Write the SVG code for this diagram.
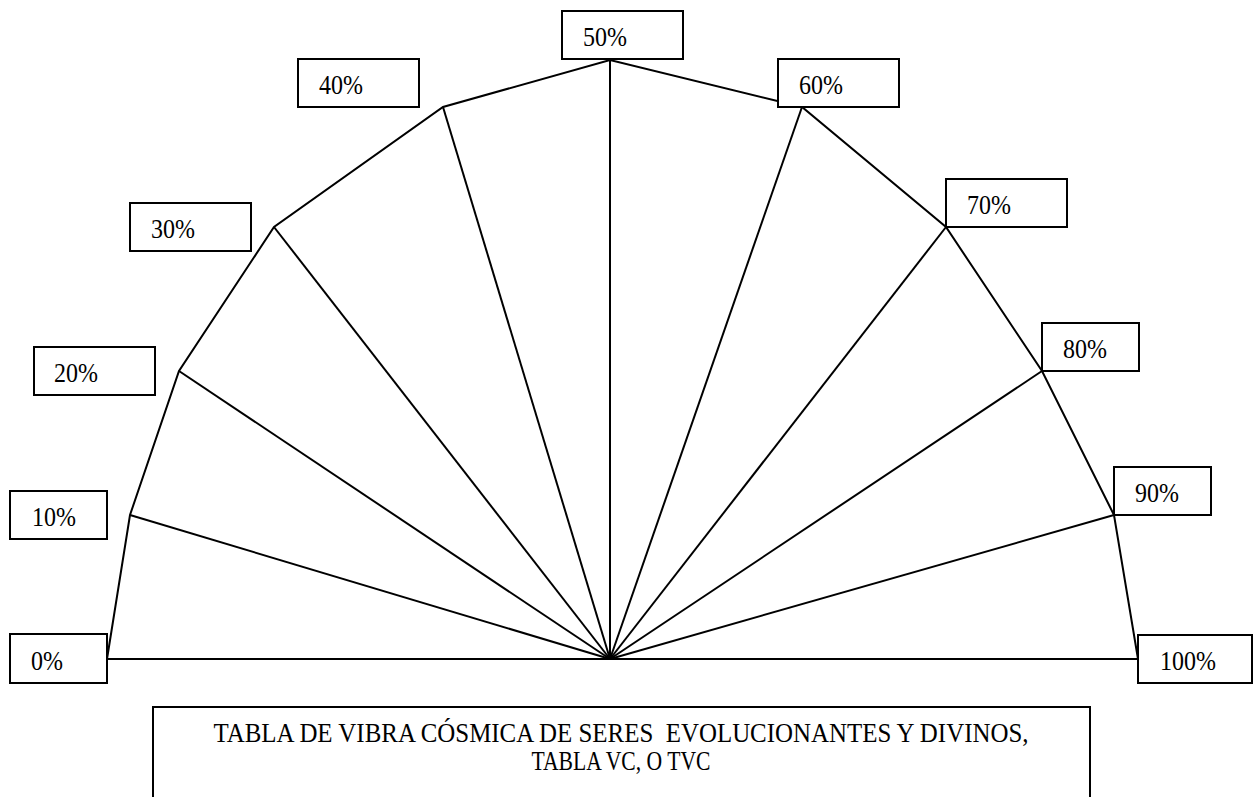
<svg xmlns="http://www.w3.org/2000/svg" width="1254" height="797" viewBox="0 0 1254 797">
<style>
.box{fill:#fff;stroke:#000;stroke-width:2}
.lbl{font-family:"Liberation Serif","Times New Roman",serif;font-size:24px;fill:#000}
.ttl{font-family:"Liberation Serif","Times New Roman",serif;font-size:21px;fill:#000;white-space:pre}
.ln{stroke:#000;stroke-width:2;fill:none;stroke-linejoin:miter}
</style>
<rect width="1254" height="797" fill="#fff"/>
<g id="connectors">
<polyline class="ln" points="107,659 130,515 179,371 274,227 443,107 610,60 802,107 946,227 1042,371 1114,515 1138,659"/>
<line class="ln" x1="107" y1="659" x2="1138" y2="659"/>
<line class="ln" x1="610" y1="659" x2="130" y2="515"/>
<line class="ln" x1="610" y1="659" x2="179" y2="371"/>
<line class="ln" x1="610" y1="659" x2="274" y2="227"/>
<line class="ln" x1="610" y1="659" x2="443" y2="107"/>
<line class="ln" x1="610" y1="659" x2="610" y2="60"/>
<line class="ln" x1="610" y1="659" x2="802" y2="107"/>
<line class="ln" x1="610" y1="659" x2="946" y2="227"/>
<line class="ln" x1="610" y1="659" x2="1042" y2="371"/>
<line class="ln" x1="610" y1="659" x2="1114" y2="515"/>
</g>
<g id="n0"><rect class="box" x="10" y="634" width="97" height="49"/><text class="lbl" transform="translate(31,670) scale(1,1.1)">0%</text></g>
<g id="n10"><rect class="box" x="10" y="491" width="97" height="48"/><text class="lbl" transform="translate(32,526) scale(1,1.1)">10%</text></g>
<g id="n20"><rect class="box" x="34" y="347" width="121" height="48"/><text class="lbl" transform="translate(54,382) scale(1,1.1)">20%</text></g>
<g id="n30"><rect class="box" x="130" y="203" width="121" height="48"/><text class="lbl" transform="translate(151,238) scale(1,1.1)">30%</text></g>
<g id="n40"><rect class="box" x="298" y="59" width="121" height="48"/><text class="lbl" transform="translate(319,94) scale(1,1.1)">40%</text></g>
<g id="n50"><rect class="box" x="562" y="11" width="121" height="48"/><text class="lbl" transform="translate(583,46) scale(1,1.1)">50%</text></g>
<g id="n60"><rect class="box" x="778" y="59" width="121" height="48"/><text class="lbl" transform="translate(799,94) scale(1,1.1)">60%</text></g>
<g id="n70"><rect class="box" x="946" y="179" width="121" height="48"/><text class="lbl" transform="translate(967,214) scale(1,1.1)">70%</text></g>
<g id="n80"><rect class="box" x="1042" y="323" width="97" height="48"/><text class="lbl" transform="translate(1063,358) scale(1,1.1)">80%</text></g>
<g id="n90"><rect class="box" x="1114" y="467" width="97" height="48"/><text class="lbl" transform="translate(1135,502) scale(1,1.1)">90%</text></g>
<g id="n100"><rect class="box" x="1138" y="635" width="114" height="48"/><text class="lbl" transform="translate(1160,670) scale(1,1.1)">100%</text></g>
<g id="title">
<rect class="box" x="153" y="707" width="937" height="110"/>
<text class="ttl" transform="translate(621,742) scale(1,1.35)" text-anchor="middle" textLength="815" lengthAdjust="spacingAndGlyphs" xml:space="preserve">TABLA DE VIBRA CÓSMICA DE SERES  EVOLUCIONANTES Y DIVINOS,</text>
<text class="ttl" transform="translate(621,770) scale(1,1.35)" text-anchor="middle" textLength="179" lengthAdjust="spacingAndGlyphs">TABLA VC, O TVC</text>
</g>
</svg>
